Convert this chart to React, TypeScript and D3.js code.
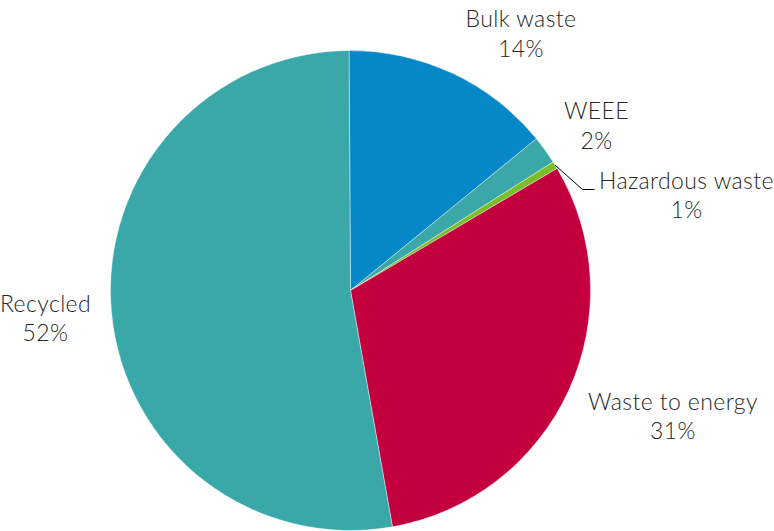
import React from "react";
import * as d3 from "d3";

const categories = ["Bulk waste", "WEEE", "Hazardous waste", "Waste to energy", "Recycled"];
const values = [14.2, 1.9, 0.5, 30.7, 52.7];
const percentLabels = ["14%", "2%", "1%", "31%", "52%"];
const colors = ["#0688C8", "#3AA7A9", "#79BE2A", "#C3003D", "#3AA7A9"];

// label layout (centre x, first baseline y) in page pixels
const labelLayout = [
  { x: 521, y: 27 },
  { x: 596.5, y: 119 },
  { x: 686.5, y: 188.5 },
  { x: 673, y: 409.5 },
  { x: 45.5, y: 311.5 },
];

const W = 774;
const H = 531;
const cx = 350.5;
const cy = 290.5;
const R = 240;

export default function App() {
  const data = categories.map((c, i) => ({ name: c, value: values[i], label: percentLabels[i], color: colors[i] }));
  const pie = d3.pie<any>().sort(null).value((d: any) => d.value).startAngle(-0.006).endAngle(2 * Math.PI - 0.006);
  const arcs = pie(data);
  const arc = d3.arc<any>().innerRadius(0).outerRadius(R);

  // leader line for hazardous waste
  const haz = arcs[2];
  const hazMid = (haz.startAngle + haz.endAngle) / 2;
  const lx0 = cx + Math.sin(hazMid) * R;
  const ly0 = cy - Math.cos(hazMid) * R;
  const hl = labelLayout[2];
  const leader = d3.line()([
    [lx0, ly0],
    [hl.x - 104, hl.y + 1],
    [hl.x - 92, hl.y + 1],
  ]);

  return (
    <svg width={W} height={H} style={{ position: "absolute", left: 0, top: 0, background: "#fff" }}>
      <g transform={`translate(${cx},${cy})`}>
        {arcs.map((a, i) => (
          <path key={i} d={arc(a) || ""} fill={a.data.color} stroke="#ffffff" strokeWidth={0.4} />
        ))}
      </g>
      <path d={leader || ""} fill="none" stroke="#000" strokeWidth={1} />
      {data.map((d, i) => (
        <text
          key={i}
          x={labelLayout[i].x}
          y={labelLayout[i].y}
          textAnchor="middle"
          fontFamily="Lato, 'Open Sans', sans-serif"
          fontWeight={300}
          fontSize={23}
          letterSpacing={0.4}
          fill="#262626"
        >
          <tspan x={labelLayout[i].x}>{d.name}</tspan>
          <tspan x={labelLayout[i].x} dy={29.5}>{d.label}</tspan>
        </text>
      ))}
    </svg>
  );
}
